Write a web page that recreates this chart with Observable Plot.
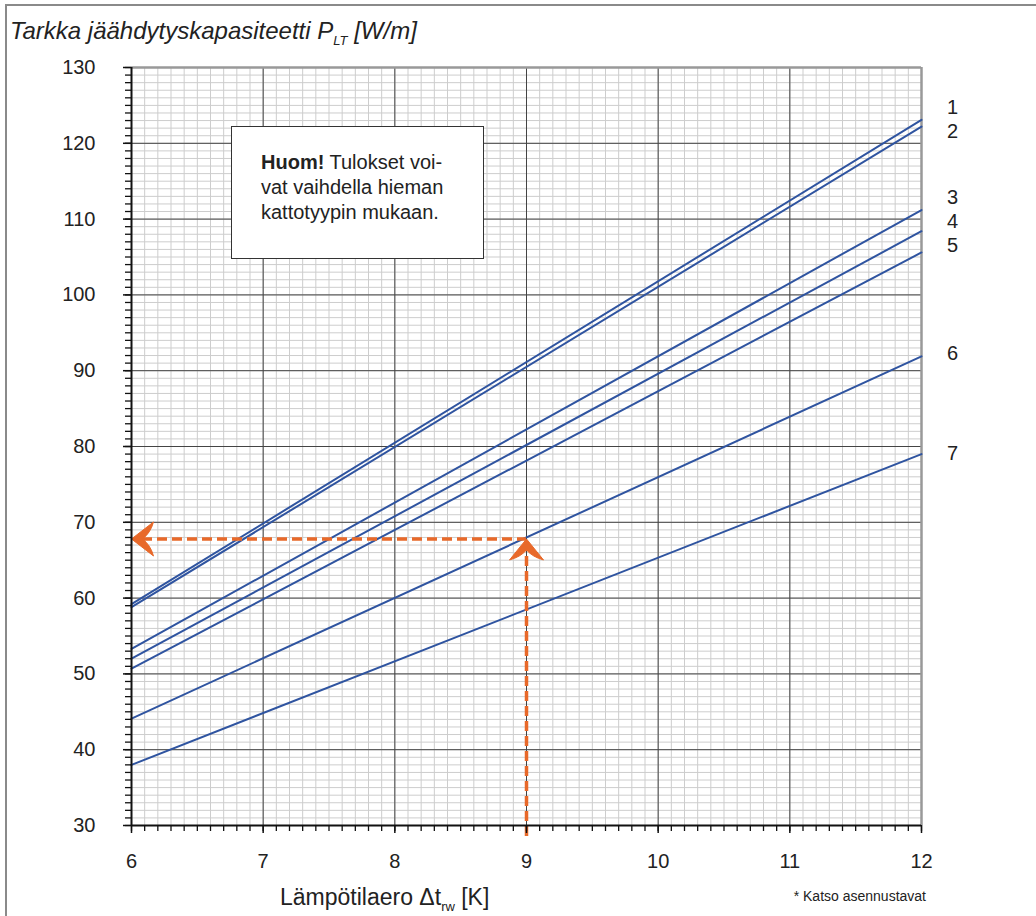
<!DOCTYPE html>
<html>
<head>
<meta charset="utf-8">
<script src="https://cdn.jsdelivr.net/npm/d3@7"></script>
<script src="https://cdn.jsdelivr.net/npm/@observablehq/plot@0.6"></script>
<style>
  html, body { margin: 0; padding: 0; background: #fff; }
  body { width: 1036px; height: 916px; position: relative; overflow: hidden; font-family: "Liberation Sans", Arial, sans-serif; color: #222; }
  #frame { position: absolute; left: 5px; top: 4px; right: -10px; bottom: -10px; border-top: 2px solid #8a8a8a; border-left: 2px solid #8a8a8a; }
  #chart { position: absolute; left: 0; top: 0; }
  #title { position: absolute; left: 10px; top: 19px; font-style: italic; font-size: 24px; line-height: 24px; white-space: nowrap; }
  #title sub { font-size: 13px; vertical-align: -6px; line-height: 0; }
  #note { position: absolute; left: 231px; top: 126px; width: 222px; height: 108px; border: 1.5px solid #333; background: #fff; padding: 23px 0 0 29px; font-size: 20px; line-height: 25px; white-space: nowrap; }
  #xlabel { position: absolute; left: 280px; top: 886px; font-size: 23px; line-height: 23px; white-space: nowrap; }
  #xlabel sub { font-size: 13px; vertical-align: -6px; line-height: 0; }
  #caption { position: absolute; right: 110px; top: 889px; font-size: 14px; line-height: 14px; white-space: nowrap; }
</style>
</head>
<body>
<div id="frame"></div>
<div id="chart"></div>
<div id="title">Tarkka jäähdytyskapasiteetti P<sub>LT</sub> [W/m]</div>
<div id="note"><b>Huom!</b> Tulokset voi-<br>vat vaihdella hieman<br>kattotyypin mukaan.</div>
<div id="xlabel">Lämpötilaero Δt<sub>rw</sub> [K]</div>
<div id="caption">* Katso asennustavat</div>
<script>
// ---- data ----
const seriesNames = ["1", "2", "3", "4", "5", "6", "7"];
const xStart = 6;
const xEnd = 12;
const valuesAtStart = [59.2, 58.8, 53.3, 52.0, 50.7, 44.1, 38.0];
const valuesAtEnd = [123.1, 122.2, 111.2, 108.4, 105.6, 91.9, 79.0];
const labelValues = [124.7, 121.6, 112.8, 109.7, 106.5, 92.2, 79.1];
const xTicks = [6, 7, 8, 9, 10, 11, 12];
const yTicks = [30, 40, 50, 60, 70, 80, 90, 100, 110, 120, 130];
const readX = 9;      // example reading: Δt = 9 K
const readY = 67.8;   // -> about 67.8 W/m on curve 6

// ---- derived tables ----
const lineData = seriesNames.flatMap((s, i) => [
  {s, x: xStart, y: valuesAtStart[i]},
  {s, x: xEnd, y: valuesAtEnd[i]}
]);
const labelData = seriesNames.map((s, i) => ({s, x: xEnd, y: labelValues[i]}));
const minorX = d3.range(xStart * 10, xEnd * 10 + 1).map(d => d / 10);
const minorY = d3.range(yTicks[0], yTicks[yTicks.length - 1] + 1);
const yMin = yTicks[0], yMax = yTicks[yTicks.length - 1];

const blue = "#2f54a0";
const orange = "#e8692a";

// arrowheads (tip at the origin)
const arrowLeft = {
  draw(ctx) {
    ctx.moveTo(0, 0);
    ctx.lineTo(22, -17);
    ctx.quadraticCurveTo(19, -6, 11, 0);
    ctx.quadraticCurveTo(19, 6, 22, 17);
    ctx.closePath();
  }
};
const arrowUp = {
  draw(ctx) {
    ctx.moveTo(0, 0);
    ctx.lineTo(17, 21);
    ctx.quadraticCurveTo(6, 18, 0, 11);
    ctx.quadraticCurveTo(-6, 18, -17, 21);
    ctx.closePath();
  }
};

const chart = Plot.plot({
  width: 1036,
  height: 916,
  marginLeft: 131,
  marginRight: 115,
  marginTop: 67,
  marginBottom: 91,
  x: {domain: [xStart, xEnd]},
  y: {domain: [yMin, yMax]},
  style: {fontFamily: "'Liberation Sans', Arial, sans-serif", fontSize: "20px", color: "#222", background: "transparent", overflow: "visible"},
  marks: [
    // minor grid
    Plot.ruleX(minorX, {stroke: "#cdcdcd", strokeWidth: 1, strokeOpacity: 1}),
    Plot.ruleY(minorY, {stroke: "#cdcdcd", strokeWidth: 1, strokeOpacity: 1}),
    // major grid
    Plot.ruleX(xTicks, {stroke: "#444", strokeWidth: 1}),
    Plot.ruleY(yTicks, {stroke: "#444", strokeWidth: 1}),
    // frame top/right
    Plot.ruleY([yMax], {stroke: "#999", strokeWidth: 2.5}),
    Plot.ruleX([xEnd], {stroke: "#999", strokeWidth: 2.5}),
    // curves
    Plot.line(lineData, {x: "x", y: "y", z: "s", stroke: blue, strokeWidth: 2}),
    // reading example
    Plot.ruleY([readY], {x1: xStart, x2: readX, insetLeft: 11, stroke: orange, strokeWidth: 3.5, strokeDasharray: "10,5", strokeOpacity: 1}),
    Plot.ruleX([readX], {y1: yMin, y2: readY, insetTop: 11, stroke: orange, strokeWidth: 3.5, strokeDasharray: "10,5", strokeOpacity: 1}),
    Plot.dot([{x: xStart, y: readY}], {x: "x", y: "y", symbol: arrowLeft, fill: orange, stroke: orange, strokeWidth: 1, strokeLinejoin: "round", r: 10}),
    Plot.dot([{x: readX, y: readY}], {x: "x", y: "y", symbol: arrowUp, fill: orange, stroke: orange, strokeWidth: 1, strokeLinejoin: "round", r: 10}),
    // axes lines
    Plot.ruleX([xStart], {stroke: "#111", strokeWidth: 2}),
    Plot.ruleY([yMin], {stroke: "#111", strokeWidth: 2}),
    // ticks
    Plot.axisY(minorY, {tickSize: 6, text: null, stroke: "#111", strokeWidth: 1.3, label: null}),
    Plot.axisY(yTicks, {tickSize: 8, tickPadding: 28, stroke: "#111", strokeWidth: 1.5, fill: "#222", label: null, fontSize: 20, tickFormat: d => String(d)}),
    Plot.axisX(minorX, {tickSize: 6, text: null, stroke: "#111", strokeWidth: 1.3, label: null}),
    Plot.axisX(xTicks, {tickSize: 8, tickPadding: 20, stroke: "#111", strokeWidth: 1.5, fill: "#222", label: null, fontSize: 20, tickFormat: d => String(d)}),
    // curve labels
    Plot.text(labelData, {x: "x", y: "y", text: "s", dx: 31, fill: "#222", fontSize: 20, textAnchor: "middle"})
  ]
});
document.getElementById("chart").appendChild(chart);
</script>
</body>
</html>
